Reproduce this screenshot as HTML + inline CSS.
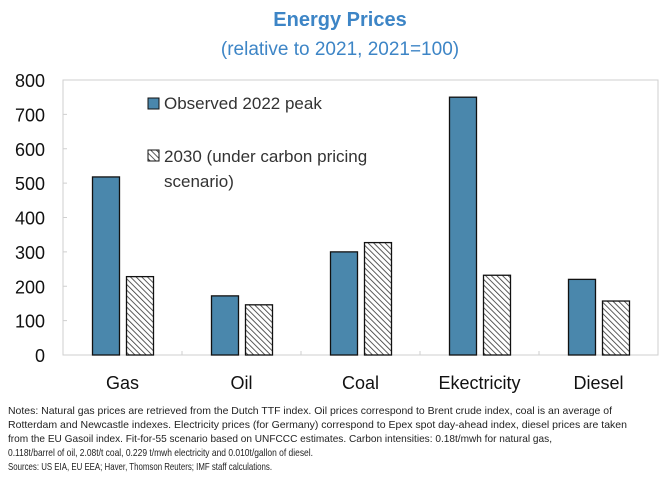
<!DOCTYPE html>
<html><head><meta charset="utf-8"><style>
body{margin:0;background:#fff;}
svg{display:block;font-family:"Liberation Sans",sans-serif;}
</style></head><body>
<svg id="chart" width="665" height="480" viewBox="0 0 665 480">
<defs>
<pattern id="hatch" patternUnits="userSpaceOnUse" width="4" height="4" patternTransform="rotate(-45)">
<rect width="4" height="4" fill="#fff"/><line x1="0" y1="0" x2="0" y2="4" stroke="#333" stroke-width="1.6"/>
</pattern>
</defs>
<text x="340" y="26" text-anchor="middle" font-size="20" font-weight="bold" fill="#3d85c6">Energy Prices</text>
<text x="340" y="55" text-anchor="middle" font-size="19" fill="#3d85c6">(relative to 2021, 2021=100)</text>
<rect x="63" y="80" width="595" height="275" fill="none" stroke="#cfcfcf" stroke-width="1"/>
<g id="yaxis"></g>
<g id="xaxis"></g>
<g id="bars"></g>
<g>
<rect x="148" y="98" width="11" height="11" fill="#4a87ac" stroke="#111" stroke-width="1"/>
<text x="164" y="109" font-size="17" fill="#333">Observed 2022 peak</text>
<rect x="148" y="150" width="11" height="11" fill="url(#hatch)" stroke="#111" stroke-width="1"/>
<text x="164" y="162" font-size="17" fill="#333">2030 (under carbon pricing</text>
<text x="164" y="187" font-size="17" fill="#333">scenario)</text>
</g>
<g font-size="10.5" fill="#222">
<text x="8" y="414" textLength="604" lengthAdjust="spacingAndGlyphs">Notes: Natural gas prices are retrieved from the Dutch TTF index. Oil prices correspond to Brent crude index, coal is an average of</text>
<text x="8" y="428" textLength="619" lengthAdjust="spacingAndGlyphs">Rotterdam and Newcastle indexes. Electricity prices (for Germany) correspond to Epex spot day-ahead index, diesel prices are taken</text>
<text x="8" y="442" textLength="544" lengthAdjust="spacingAndGlyphs">from the EU Gasoil index. Fit-for-55 scenario based on UNFCCC estimates. Carbon intensities: 0.18t/mwh for natural gas,</text>
<text x="8" y="456" textLength="305" lengthAdjust="spacingAndGlyphs">0.118t/barrel of oil, 2.08t/t coal, 0.229 t/mwh electricity and 0.010t/gallon of diesel.</text>
<text x="8" y="470" textLength="264" lengthAdjust="spacingAndGlyphs">Sources: US EIA, EU EEA; Haver, Thomson Reuters; IMF staff calculations.</text>
</g>
</svg>
<script>
const categories = ["Gas", "Oil", "Coal", "Ekectricity", "Diesel"];
const observed2022 = [518, 172, 300, 750, 220];
const scenario2030 = [228, 146, 327, 232, 157];
const yTicks = [0, 100, 200, 300, 400, 500, 600, 700, 800];

const NS = "http://www.w3.org/2000/svg";
const plot = {left: 63, right: 658, top: 80, bottom: 355};
const yMax = 800;
function y(v){ return plot.bottom - v / yMax * (plot.bottom - plot.top); }
const bandW = (plot.right - plot.left) / categories.length;
function xBand(i){ return plot.left + i * bandW; }
function mk(tag, attrs, parent){ const e = document.createElementNS(NS, tag); for (const k in attrs) e.setAttribute(k, attrs[k]); parent.appendChild(e); return e; }

const yaxis = document.getElementById("yaxis");
yTicks.forEach(t => {
  const tx = mk("text", {x: 45, y: y(t) + 7, "text-anchor": "end", "font-size": "18", fill: "#111"}, yaxis);
  tx.textContent = t;
  
  
  if (t > 0 && t < yMax) {
    const ln = mk("line", {x1: plot.left, x2: plot.left + 4, y1: y(t), y2: y(t), stroke: "#cfcfcf"}, yaxis);
    
    
  }
});

const xaxis = document.getElementById("xaxis");
categories.forEach((c, i) => {
  const tx = mk("text", {x: xBand(i) + bandW / 2, y: 389, "text-anchor": "middle", "font-size": "18", fill: "#111"}, xaxis);
  tx.textContent = c;
  
  
  if (i > 0) {
    const ln = mk("line", {x1: xBand(i), x2: xBand(i), y1: plot.bottom, y2: plot.bottom - 4, stroke: "#cfcfcf"}, xaxis);
    
    
  }
});

const bars = document.getElementById("bars");
const bw = 27, gap = 7;
categories.forEach((c, i) => {
  const x0 = xBand(i) + bandW / 2 - bw - gap / 2 + 0.5;
  const v1 = observed2022[i], v2 = scenario2030[i];
  const b1 = mk("rect", {x: x0, y: y(v1), width: bw, height: y(0) - y(v1), fill: "#4a87ac", stroke: "#111", "stroke-width": 1.3}, bars);
  
  
  const b2 = mk("rect", {x: x0 + bw + gap, y: y(v2), width: bw, height: y(0) - y(v2), fill: "url(#hatch)", stroke: "#111", "stroke-width": 1.3}, bars);
  
  
});
</script>
</body></html>
